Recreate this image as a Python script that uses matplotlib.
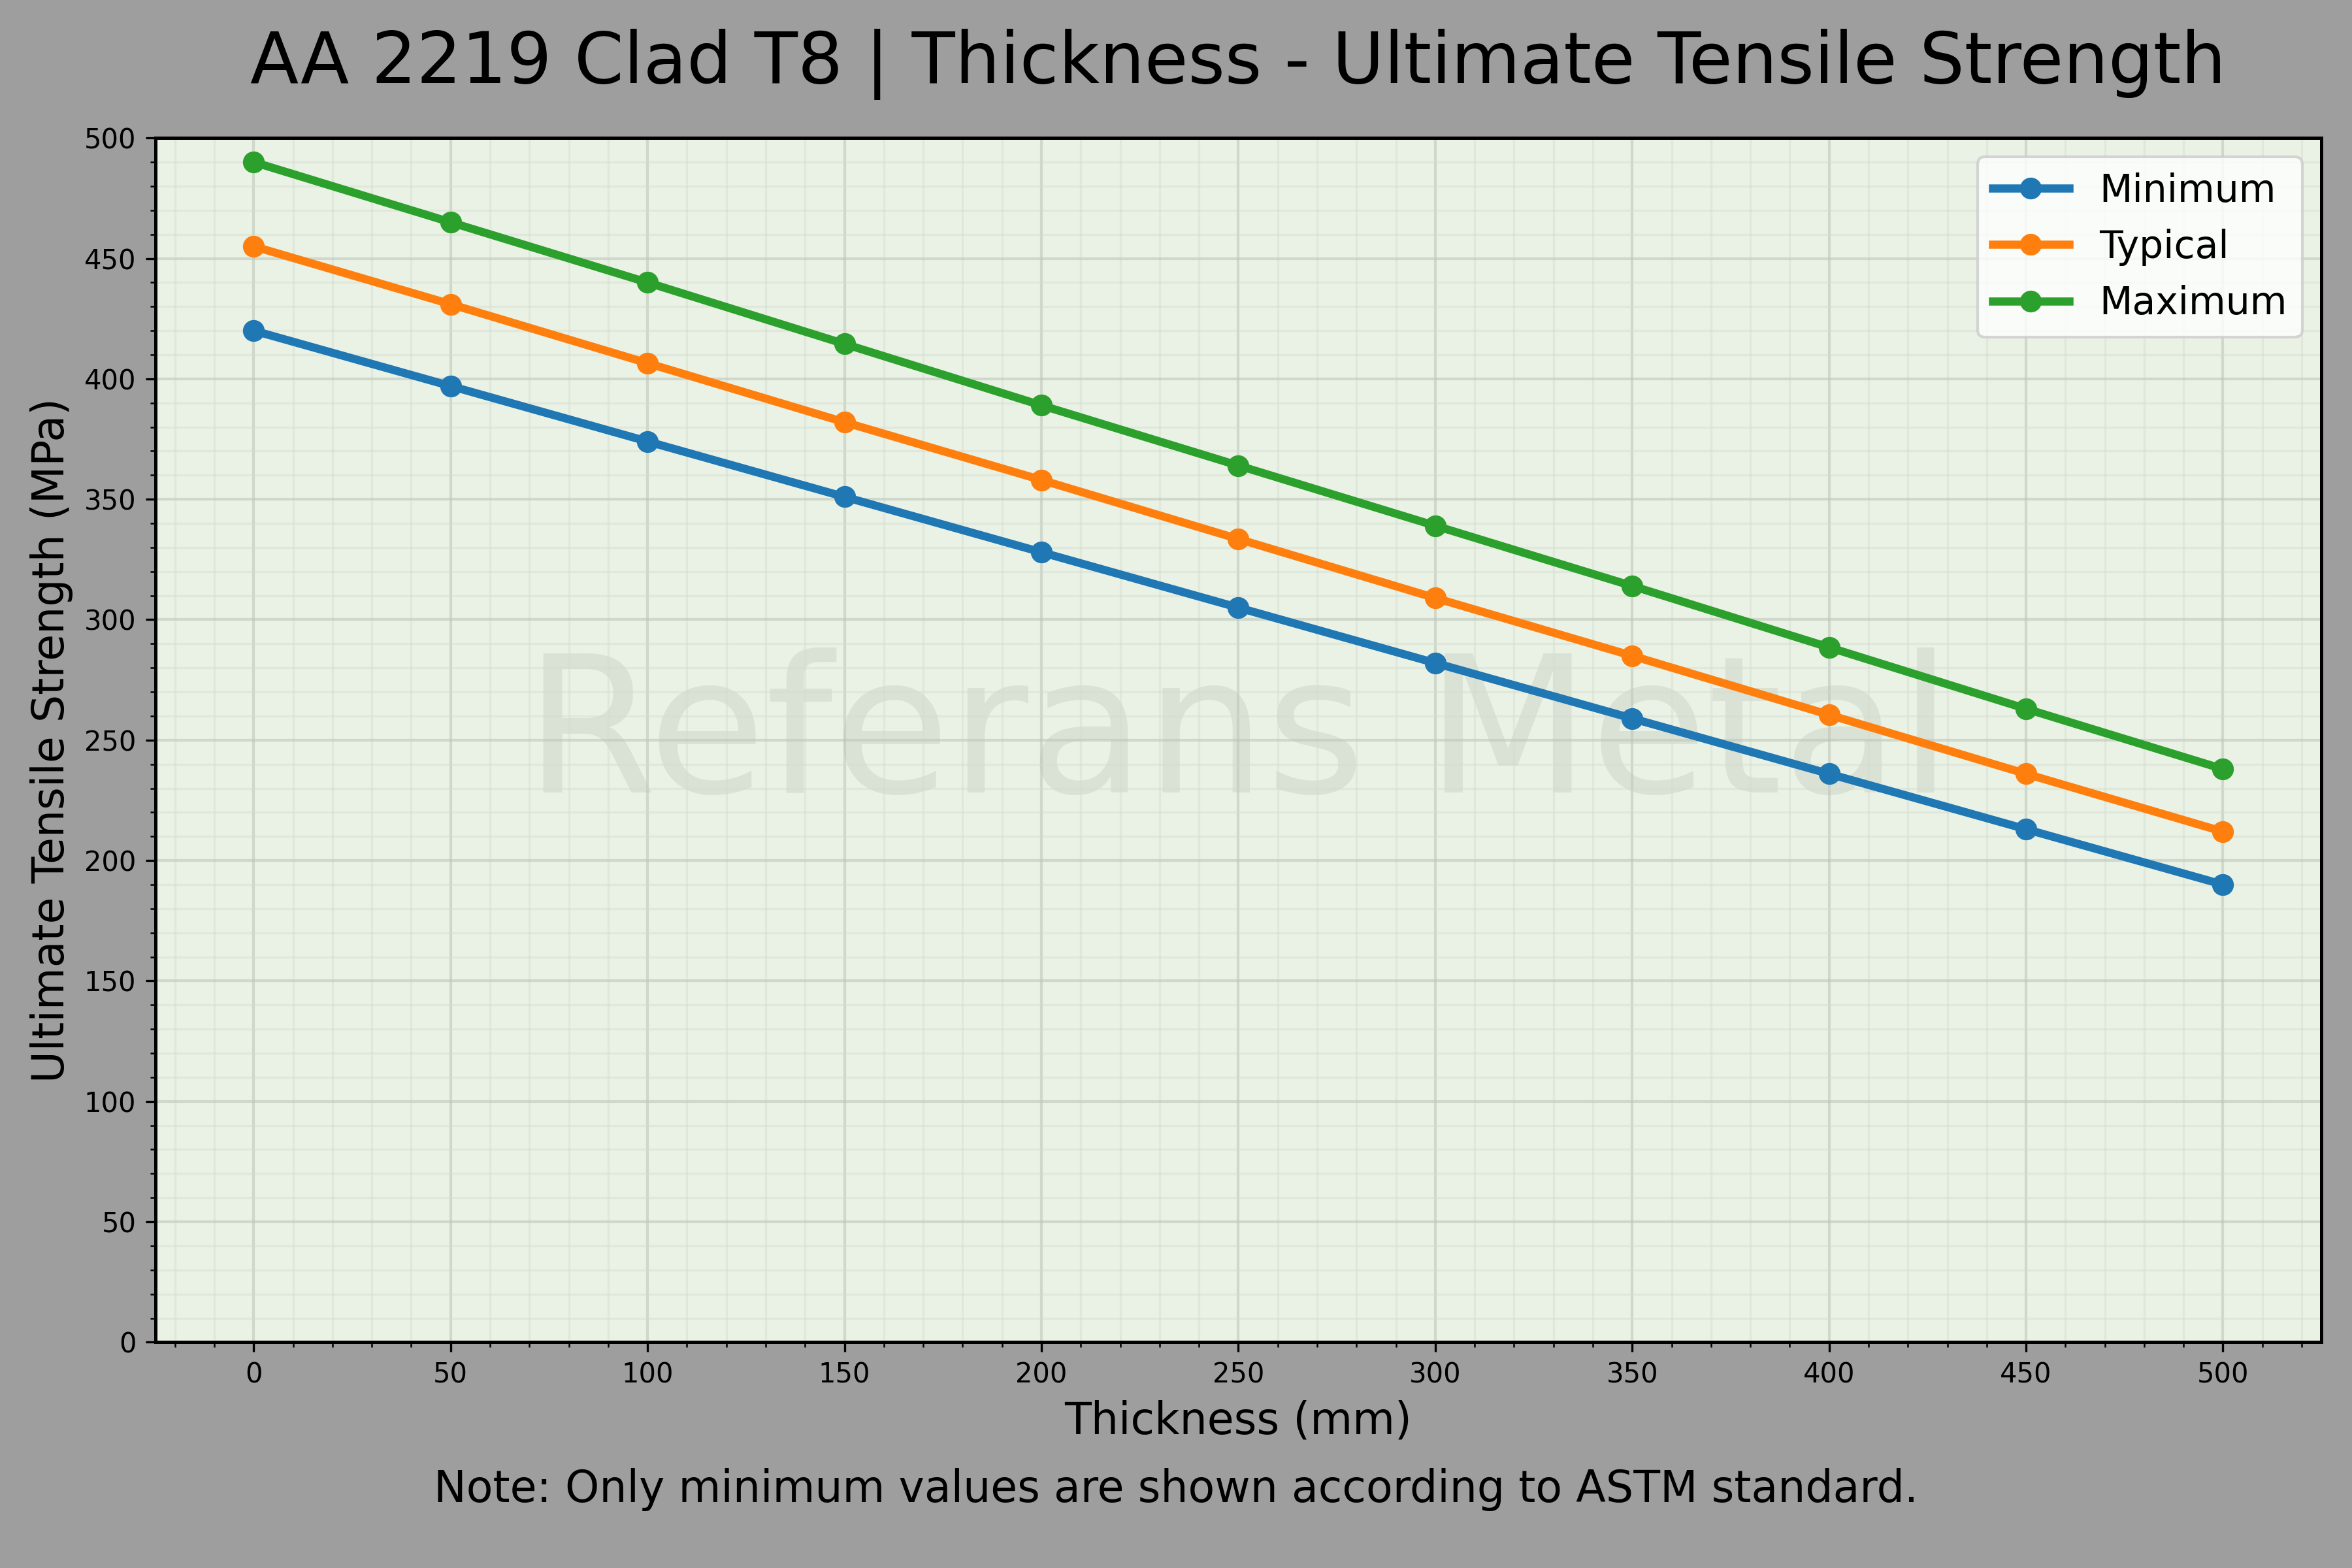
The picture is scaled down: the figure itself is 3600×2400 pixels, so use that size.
import matplotlib
matplotlib.use("Agg")
import matplotlib.pyplot as plt
from matplotlib.ticker import MultipleLocator

# thickness values (mm) and strengths (MPa)
thickness = [0, 50, 100, 150, 200, 250, 300, 350, 400, 450, 500]
uts_min = [420, 397, 374, 351, 328, 305, 282, 259, 236, 213, 190]
uts_typ = [455, 431, 406.5, 382, 358, 333.5, 309, 285, 260.5, 236, 212]
uts_max = [490, 465, 440, 414.5, 389, 364, 339, 314, 288.5, 263, 238]

series_labels = ["Minimum", "Typical", "Maximum"]
series_colors = ["#1f77b4", "#ff7f0e", "#2ca02c"]

fig = plt.figure(figsize=(12, 8), dpi=300, facecolor="#9e9e9e")
ax = fig.add_axes([0.066, 0.144, 0.921, 0.768])
ax.set_facecolor("#eaf2e5")

for vals, lab, col in zip([uts_min, uts_typ, uts_max], series_labels, series_colors):
    ax.plot(thickness, vals, marker="o", color=col, linewidth=3, markersize=7, label=lab)

ax.set_xlim(-25, 525)
ax.set_ylim(0, 500)
ax.xaxis.set_major_locator(MultipleLocator(50))
ax.xaxis.set_minor_locator(MultipleLocator(10))
ax.yaxis.set_major_locator(MultipleLocator(50))
ax.yaxis.set_minor_locator(MultipleLocator(10))
ax.tick_params(axis="both", which="major", labelsize=10)

ax.grid(True, which="major", color="#bcc4b9", alpha=0.55, linewidth=1)
ax.grid(True, which="minor", color="#d3dbcf", alpha=0.4, linewidth=0.8)
ax.set_axisbelow(True)

for sp in ax.spines.values():
    sp.set_color("black")
    sp.set_linewidth(1.2)

# watermark
ax.text(0.5, 0.5, "Referans Metal", transform=ax.transAxes, fontsize=70,
        color="gray", alpha=0.15, ha="center", va="center", zorder=0)

ax.set_xlabel("Thickness (mm)", fontsize=16)
ax.set_ylabel("Ultimate Tensile Strength (MPa)", fontsize=16)
fig.text(0.5265, 0.959, "AA 2219 Clad T8 | Thickness - Ultimate Tensile Strength",
         fontsize=26, ha="center", va="center")

leg = ax.legend(loc="upper right", fontsize=14, framealpha=0.8)

fig.text(0.5, 0.05, "Note: Only minimum values are shown according to ASTM standard.",
         ha="center", va="center", fontsize=16)

fig.savefig("out.png", dpi=300, facecolor=fig.get_facecolor())
